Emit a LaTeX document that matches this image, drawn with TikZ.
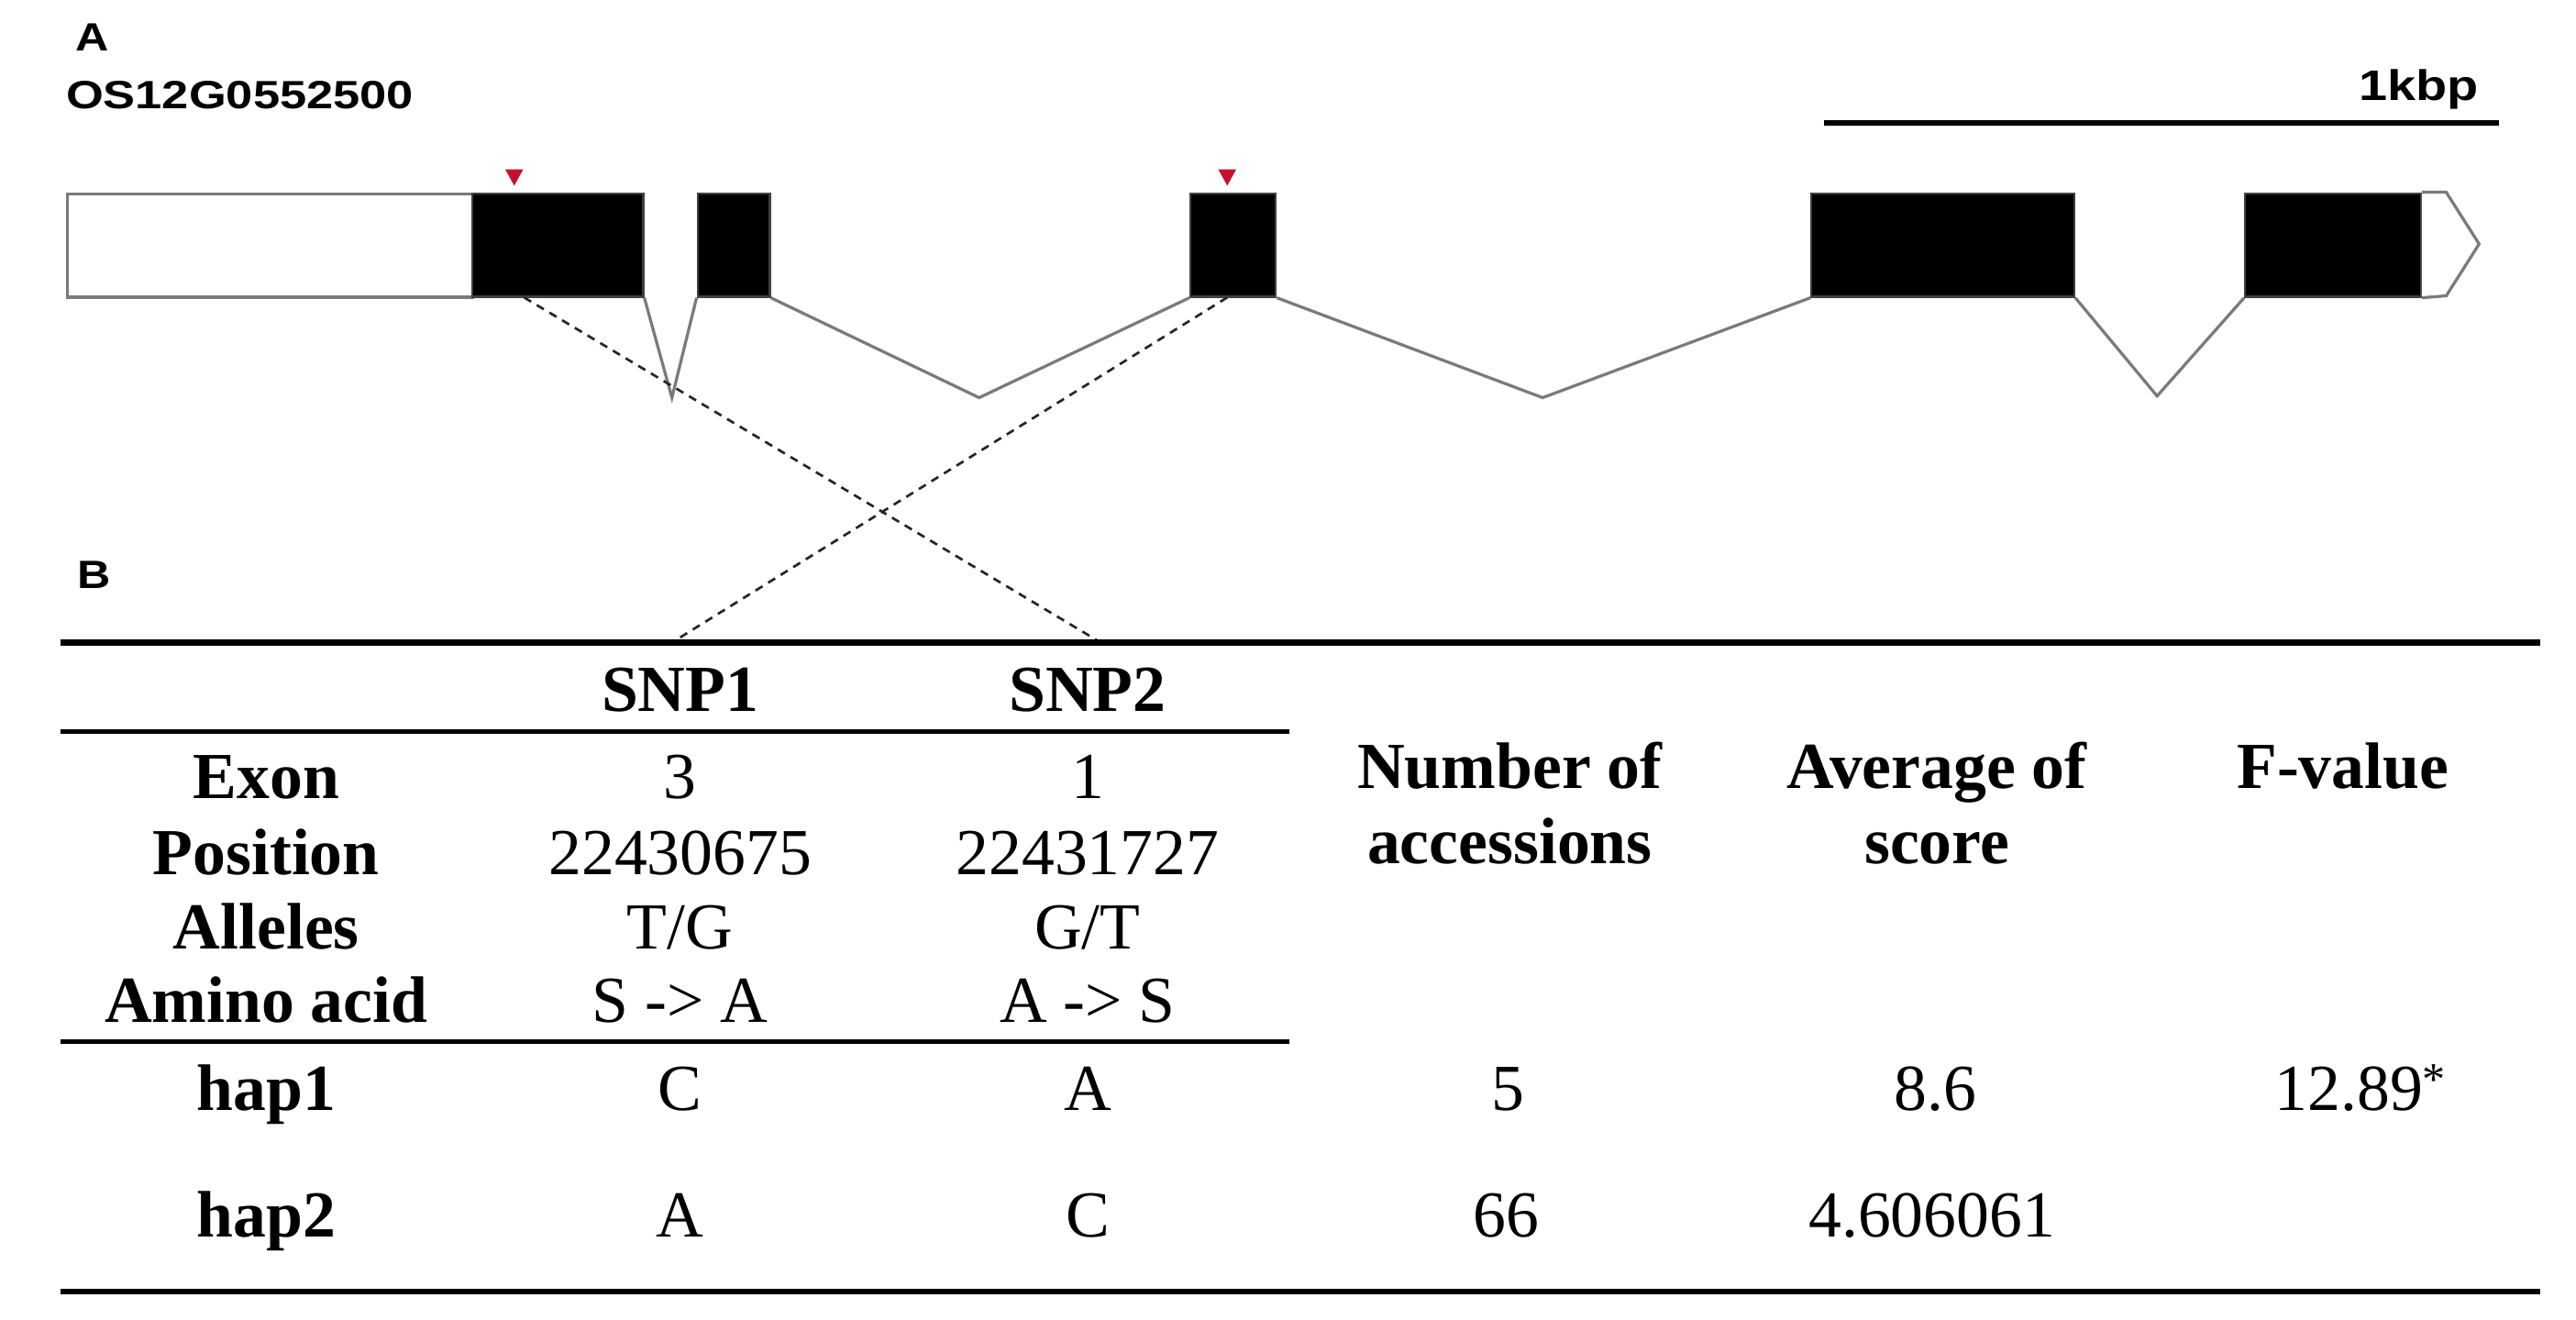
\documentclass[tikz,border=0pt]{standalone}
\usepackage{fontspec}
\usepackage{graphicx}
\setmainfont{Liberation Serif}
\newfontfamily\arialf{Liberation Sans}
\definecolor{snpred}{HTML}{C8102E}
\definecolor{intron}{HTML}{7A7A7A}
\begin{document}
\begin{tikzpicture}[x=1pt,y=-1pt,
  tab/.style={anchor=base,inner sep=0pt,font=\fontsize{40}{46}\selectfont},
  tabb/.style={anchor=base,inner sep=0pt,font=\fontsize{40}{46}\selectfont\bfseries},
  sanslab/.style={inner sep=0pt,font=\arialf\bfseries\fontsize{24}{28}\selectfont},
  exonbox/.style={draw=black!75,line width=1.2pt,fill=black,inner sep=0pt,anchor=north west,minimum height=63pt},
  utrbox/.style={draw=intron,line width=1.8pt,fill=white,inner sep=0pt,anchor=north west,minimum height=63pt},
  intronline/.style={draw=intron,line width=1.8pt,line join=miter},
  snpline/.style={draw=black!85,line width=1.5pt,dash pattern=on 5pt off 4pt},
  rule/.style={draw=black,line width=3.5pt},
  snpmark/.style={fill=snpred}
]
\useasboundingbox (0,0) rectangle (1568,803);
\fill[white] (0,0) rectangle (1568,803);

% ---------- Panel A ----------
\node[sanslab,anchor=base west] (labA) at (46,31) {\scalebox{1.17}[1]{A}};
\node[sanslab,anchor=base west] (gene) at (40,66) {\scalebox{1.22}[1]{OS12G0552500}};
\node[sanslab,anchor=base east,font=\arialf\bfseries\fontsize{26}{30}\selectfont] (kbp) at (1509,61) {\scalebox{1.2}[1]{1kbp}};
\coordinate (sbL) at (1110,75);
\coordinate (sbR) at (1521,75);
\draw[rule] (sbL) -- (sbR);

% exons
\node[utrbox,minimum width=247pt] (u5) at (40,117) {};
\node[exonbox,minimum width=104pt] (e1) at (287,117) {};
\node[exonbox,minimum width=44pt] (e2) at (424,117) {};
\node[exonbox,minimum width=52pt] (e3) at (724,117) {};
\node[exonbox,minimum width=160pt] (e4) at (1102,117) {};
\node[exonbox,minimum width=107pt] (e5) at (1366,117) {};
\coordinate (tipT) at (1489,117);
\coordinate (tip) at (1509,148.5);
\coordinate (tipB) at (1489,180);
\draw[draw=intron,line width=1.8pt,fill=white,line join=miter] (e5.north east) -- (tipT) -- (tip) -- (tipB) -- (e5.south east);

% introns
\coordinate (i1) at (409,242);
\coordinate (i2) at (596,242);
\coordinate (i3) at (939,242);
\coordinate (i4) at (1313,241);
\draw[intronline] (e1.south east) -- (i1) -- (e2.south west);
\draw[intronline] (e2.south east) -- (i2) -- (e3.south west);
\draw[intronline] (e3.south east) -- (i3) -- (e4.south west);
\draw[intronline] (e4.south east) -- (i4) -- (e5.south west);

% SNP markers
\coordinate (s1) at (313,113);
\coordinate (s2) at (747,113);
\fill[snpmark] ([xshift=-5.5pt,yshift=10pt]s1) -- ([xshift=5.5pt,yshift=10pt]s1) -- (s1) -- cycle;
\fill[snpmark] ([xshift=-5.5pt,yshift=10pt]s2) -- ([xshift=5.5pt,yshift=10pt]s2) -- (s2) -- cycle;

% dashed connectors
\coordinate (d1a) at (319,181);
\coordinate (d1b) at (670,391);
\coordinate (d2a) at (747,181);
\coordinate (d2b) at (409,391);
\draw[snpline] (d1a) -- (d1b);
\draw[snpline] (d2a) -- (d2b);

% ---------- Panel B ----------
\node[sanslab,anchor=base west] (labB) at (47,358) {\scalebox{1.17}[1]{B}};

\coordinate (r1L) at (37,391);  \coordinate (r1R) at (1546,391);
\coordinate (r2L) at (37,445);  \coordinate (r2R) at (785,445);
\coordinate (r3L) at (37,634);  \coordinate (r3R) at (785,634);
\coordinate (r4L) at (37,786);  \coordinate (r4R) at (1546,786);
\draw[rule] (r1L) -- (r1R);
\draw[rule,line width=3pt] (r2L) -- (r2R);
\draw[rule,line width=3pt] (r3L) -- (r3R);
\draw[rule] (r4L) -- (r4R);

% header
\node[tabb] (hS1) at (414,433) {SNP1};
\node[tabb] (hS2) at (662,433) {SNP2};
\node[tabb] (hN1) at (919,480) {Number of};
\node[tabb] (hN2) at (919,525.5) {accessions};
\node[tabb] (hA1) at (1179,480) {Average of};
\node[tabb] (hA2) at (1179,525.5) {score};
\node[tabb] (hF) at (1426,480) {F-value};

% SNP info rows
\node[tabb] (lExon) at (162,486) {Exon};
\node[tabb] (lPos) at (162,532.5) {Position};
\node[tabb] (lAll) at (162,577.5) {Alleles};
\node[tabb] (lAmi) at (162,622) {Amino acid};
\node[tab] (x1) at (414,486) {3};
\node[tab] (x2) at (662,486) {1};
\node[tab] (p1) at (414,532.5) {22430675};
\node[tab] (p2) at (662,532.5) {22431727};
\node[tab] (a1) at (414,577.5) {T/G};
\node[tab] (a2) at (662,577.5) {G/T};
\node[tab] (m1) at (414,622) {S -> A};
\node[tab] (m2) at (662,622) {A -> S};

% haplotypes
\node[tabb] (h1) at (162,675.5) {hap1};
\node[tab] (h1s1) at (414,675.5) {C};
\node[tab] (h1s2) at (662,675.5) {A};
\node[tab] (h1n) at (918,675.5) {5};
\node[tab] (h1a) at (1178,675.5) {8.6};
\node[tab] (h1f) at (1437,675.5) {12.89\textsuperscript{*}};
\node[tabb] (h2) at (162,753) {hap2};
\node[tab] (h2s1) at (414,753) {A};
\node[tab] (h2s2) at (662,753) {C};
\node[tab] (h2n) at (917,753) {66};
\node[tab] (h2a) at (1176,753) {4.606061};
\end{tikzpicture}
\end{document}
